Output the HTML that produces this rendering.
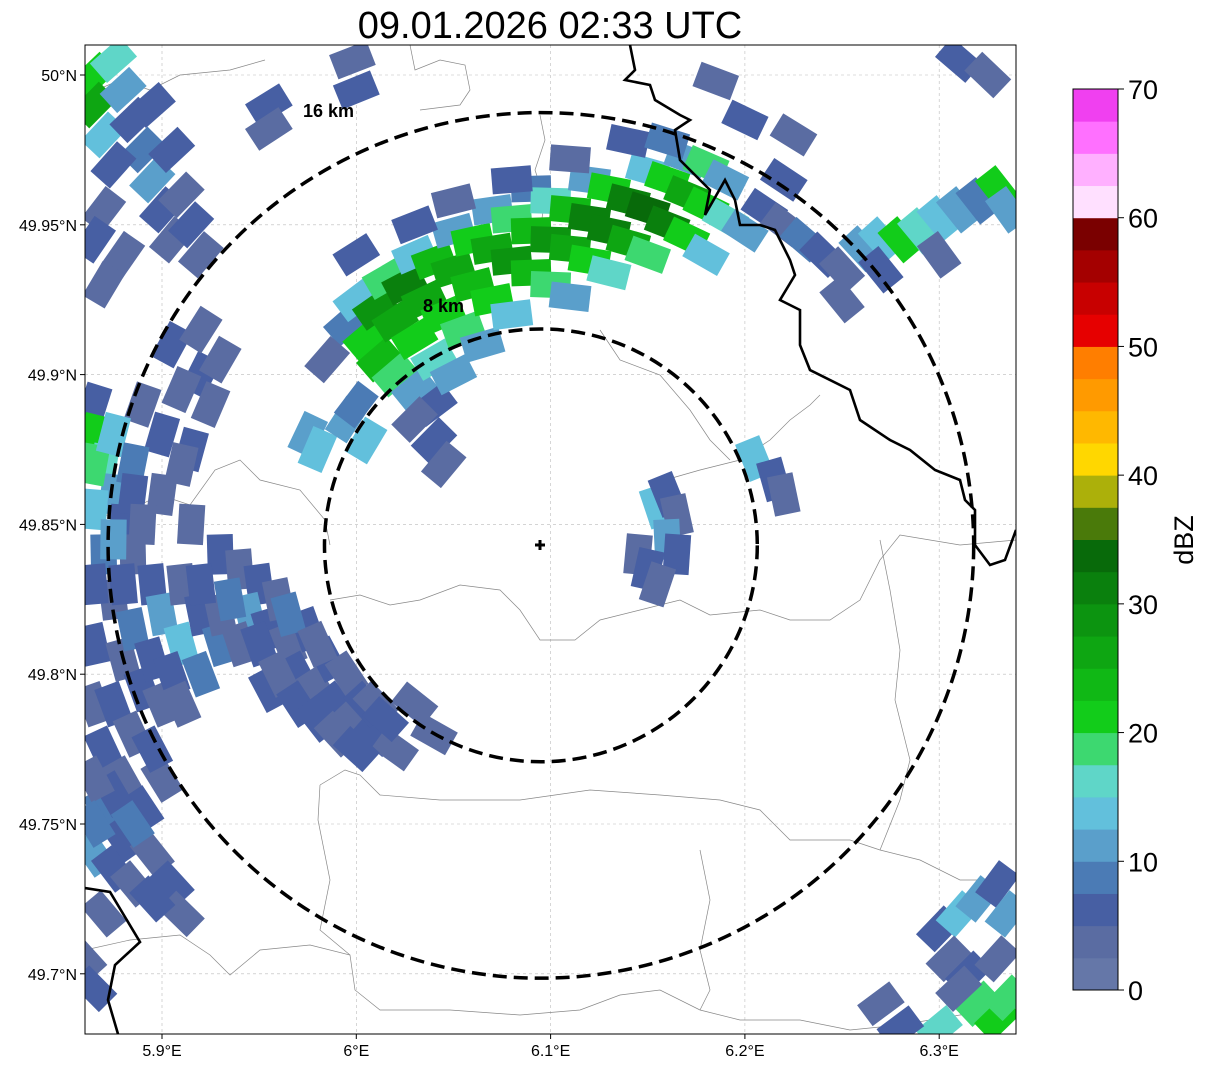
<!DOCTYPE html>
<html><head><meta charset="utf-8"><style>
html,body{margin:0;padding:0;background:#fff;}
body{width:1207px;height:1069px;overflow:hidden;font-family:"Liberation Sans","DejaVu Sans",sans-serif;}
</style></head><body>
<svg id="chart" width="1207" height="1069" xmlns="http://www.w3.org/2000/svg" font-family="Liberation Sans, DejaVu Sans, sans-serif">
<text x="550" y="38" font-size="38" text-anchor="middle">09.01.2026 02:33 UTC</text>
<defs><clipPath id="mapclip"><rect x="85" y="45" width="931" height="989"/></clipPath></defs>
<g id="map" clip-path="url(#mapclip)">
<g id="grid"></g>
<g id="borders" fill="none" stroke="#888" stroke-width="0.7">
<path d="M85,95 L120,80 150,90 180,75 230,70 265,60"/>
<path d="M410,45 L415,70 440,60 465,65 470,90 460,105 420,110"/>
<path d="M540,115 L545,140 535,170 545,200 540,230"/>
<path d="M85,520 L130,510 160,495 190,505 215,470 240,460 260,480 300,490 325,520 330,545"/>
<path d="M330,600 L360,595 390,605 420,600 460,585 500,590 520,610 540,640 575,640 600,620 640,610 680,600 710,615 760,610 790,620 830,620 860,600 880,560 900,535 960,545 1016,540"/>
<path d="M320,785 L345,770 360,775 380,795 440,800 520,800 590,790 660,795 720,800 760,810 790,840 850,840 880,850 920,860 960,880 1016,880"/>
<path d="M85,950 L130,940 180,935 210,955 230,975 260,950 310,945 350,955 355,990 380,1010 450,1010 520,1015 580,1010 620,995 660,990 700,1010 740,1020 800,1020 850,1030 900,1025 960,1015 1016,1010"/>
<path d="M665,480 L700,470 740,460 770,440 790,420 810,405 820,395"/>
<path d="M600,330 L620,360 660,375 690,410 710,440 730,460"/>
<path d="M880,540 L890,590 900,650 895,700 910,760 900,800 880,850"/>
<path d="M320,785 L318,820 330,880 320,930 350,955"/>
<path d="M700,850 L710,900 700,950 710,990 700,1010"/>
</g>
<g id="echoes"></g>
<g id="rivers" fill="none" stroke="#000" stroke-width="2.6">
<path d="M630,45 L635,70 625,80 650,85 655,100 680,115 690,120 675,130 680,160 700,180 710,190 705,215 725,180 735,200 740,225 760,225 775,230 790,260 795,275 780,300 800,310 800,345 810,370 850,390 860,420 890,440 910,450 935,470 960,480 965,500 975,510 975,545 990,565 1005,560 1016,530"/>
<path d="M85,888 L110,892 140,942 115,965 108,1000 118,1034"/>
</g>
</g>
<rect x="85" y="45" width="931" height="989" fill="none" stroke="#000" stroke-width="1"/>
<g id="rings" fill="none" stroke="#000" stroke-width="3.5" stroke-dasharray="14,7"></g>
<g stroke="#000" stroke-width="3"><line x1="535" y1="545" x2="545" y2="545"/><line x1="540" y1="540" x2="540" y2="550"/></g>
<text x="303" y="117" font-size="18" font-weight="bold">16 km</text>
<text x="423" y="312" font-size="18" font-weight="bold">8 km</text>
<g id="axes" font-size="16"></g>
<g id="cbar"></g>
<text transform="translate(1193,540) rotate(-90)" font-size="27" text-anchor="middle">dBZ</text>
</svg>
<script>
const lonTicks=[5.9,6.0,6.1,6.2,6.3];
const lonLabels=["5.9°E","6°E","6.1°E","6.2°E","6.3°E"];
const latTicks=[50.0,49.95,49.9,49.85,49.8,49.75,49.7];
const latLabels=["50°N","49.95°N","49.9°N","49.85°N","49.8°N","49.75°N","49.7°N"];
const cbarTicks=[0,10,20,30,40,50,60,70];
const cbarColors=["#6577a8","#5a6ca2","#475fa3","#4b7bb5","#5a9fcb","#62c0dc","#5fd6c8","#3dd870","#12cc1a","#10b815","#0ea612","#0c9410","#0a800d","#086a0a","#4a7a0a","#acb00a","#ffd700","#ffb800","#ff9a00","#ff7e00","#e60000","#c80000","#a40000","#7a0000","#ffe0ff","#ffb0ff","#ff70ff","#f040f0"];
const radarSite=[6.095,49.843];
const ringRadiiKm=[8,16];
const echoLon=[],echoLat=[],echoDbz=[];
const echoCells=[
[5.995,49.917,8],[6.005,49.912,22],[6.012,49.905,24],[6.02,49.90,18],[6.03,49.895,10],[6.04,49.89,6],[6.0,49.925,14],[6.01,49.922,28],[6.02,49.918,26],[6.03,49.912,22],[6.04,49.905,16],[6.05,49.90,12],
[6.015,49.932,18],[6.025,49.93,30],[6.035,49.925,26],[6.045,49.92,22],[6.055,49.915,18],[6.065,49.91,12],
[6.03,49.94,14],[6.04,49.938,24],[6.05,49.935,26],[6.06,49.93,24],[6.07,49.925,20],[6.08,49.92,14],
[6.05,49.948,12],[6.06,49.945,22],[6.07,49.942,26],[6.08,49.938,28],[6.09,49.934,24],[6.10,49.93,18],[6.11,49.926,12],
[6.07,49.955,10],[6.08,49.952,18],[6.09,49.948,24],[6.10,49.945,28],[6.11,49.942,26],[6.12,49.938,22],[6.13,49.934,16],
[6.09,49.962,8],[6.10,49.958,16],[6.11,49.955,24],[6.12,49.952,30],[6.13,49.948,30],[6.14,49.944,26],[6.15,49.94,18],
[6.12,49.965,12],[6.13,49.962,20],[6.14,49.958,32],[6.15,49.955,34],[6.16,49.95,30],[6.17,49.946,22],[6.18,49.94,14],
[6.15,49.968,14],[6.16,49.965,22],[6.17,49.96,26],[6.18,49.956,22],[6.19,49.952,16],[6.20,49.948,10],
[6.17,49.972,10],[6.18,49.97,18],[6.19,49.965,12],
[6.03,49.95,6],[6.05,49.958,4],[6.08,49.965,6],[6.11,49.972,4],[6.14,49.978,6],[6.16,49.978,8],[6.0,49.94,6],[5.985,49.905,4],
[6.21,49.955,6],[6.22,49.95,4],[6.23,49.945,8],[6.24,49.94,6],[6.25,49.935,4],[6.26,49.942,12],[6.27,49.945,14],[6.28,49.945,20],[6.29,49.948,16],[6.30,49.952,14],[6.31,49.955,12],[6.32,49.958,8],[6.33,49.962,20],[6.335,49.955,10],[6.27,49.935,6],[6.30,49.94,4],[6.22,49.965,6],[6.25,49.925,4],
[6.03,49.885,4],[6.04,49.878,6],[6.045,49.87,4],
[5.865,50.0,22],[5.865,49.99,26],[5.87,49.98,14],[5.875,50.005,16],[5.88,49.995,12],[5.885,49.985,6],[5.89,49.975,8],[5.895,49.965,12],[5.9,49.955,6],[5.905,49.945,4],[5.91,49.96,4],[5.915,49.95,6],[5.92,49.94,4],[5.875,49.97,6],[5.87,49.955,4],[5.865,49.945,6],[5.88,49.94,4],[5.895,49.99,6],[5.905,49.975,6],[5.87,49.93,4],
[5.865,49.89,6],[5.865,49.88,20],[5.87,49.87,16],[5.875,49.86,12],[5.865,49.855,14],[5.88,49.85,6],[5.87,49.84,8],[5.885,49.84,4],[5.895,49.83,6],[5.875,49.825,4],[5.9,49.82,10],[5.91,49.81,14],[5.865,49.81,6],[5.88,49.805,4],[5.89,49.795,6],[5.9,49.79,4],[5.92,49.8,8],[5.865,49.79,4],[5.87,49.775,6],[5.88,49.765,4],[5.89,49.755,6],[5.87,49.755,8],[5.865,49.74,10],[5.88,49.745,6],[5.895,49.74,4],[5.905,49.73,6],[5.91,49.72,4],[5.86,49.705,4],[5.89,49.89,4],[5.9,49.88,6],[5.92,49.9,6],[5.925,49.89,4],[5.93,49.905,4],[5.9,49.86,4],
[5.865,49.87,18],[5.875,49.88,14],[5.885,49.87,8],[5.885,49.86,6],[5.89,49.85,4],[5.875,49.845,10],[5.865,49.83,6],[5.88,49.83,6],[5.885,49.815,8],[5.895,49.805,6],[5.905,49.8,6],[5.91,49.79,4],[5.875,49.79,6],[5.885,49.78,4],[5.875,49.76,6],[5.885,49.75,8],[5.865,49.765,4],[5.865,49.75,8],[5.875,49.735,6],[5.885,49.73,4],[5.895,49.725,6],[5.9,49.765,4],[5.895,49.775,6],[5.91,49.83,4],[5.92,49.82,6],[5.93,49.81,8],[5.915,49.875,6],[5.91,49.895,4],[5.905,49.91,6],[5.92,49.915,4],[5.91,49.87,4],[5.87,49.72,4],[5.865,49.695,6],
[5.93,49.84,6],[5.94,49.835,4],[5.95,49.83,6],[5.945,49.82,12],[5.955,49.815,6],[5.965,49.81,4],[5.97,49.80,6],[5.98,49.795,4],[5.99,49.79,6],[6.0,49.785,4],[6.01,49.78,6],[6.02,49.775,4],[5.985,49.805,6],[5.995,49.8,4],[6.005,49.79,6],[5.96,49.825,4],[5.975,49.815,6],[5.94,49.81,4],[5.955,49.795,6],[5.93,49.82,4],[6.03,49.79,4],[6.04,49.78,4],[5.915,49.85,4],[5.92,49.83,6],
[5.935,49.825,8],[5.95,49.81,6],[5.96,49.8,4],[5.97,49.79,6],[5.98,49.785,6],[5.99,49.78,4],[6.0,49.775,6],[5.965,49.82,8],[5.98,49.81,4],[6.01,49.79,4],[6.015,49.785,6],
[6.155,49.856,14],[6.16,49.86,6],[6.165,49.853,4],[6.16,49.845,12],[6.165,49.84,6],[6.145,49.84,4],[6.15,49.835,6],[6.155,49.83,4],[6.205,49.872,14],[6.215,49.865,6],[6.22,49.86,4],[5.975,49.88,12],[5.98,49.875,14],[5.995,49.885,12],[6.005,49.878,14],[6.0,49.89,8],
[5.998,50.005,4],[6.0,49.995,6],[5.955,49.99,6],[5.955,49.982,4],[6.185,49.998,4],[6.2,49.985,6],[6.31,50.005,6],[6.325,50.0,4],[6.225,49.98,4],
[6.30,49.715,6],[6.31,49.72,14],[6.32,49.725,10],[6.33,49.73,6],[6.335,49.72,12],[6.305,49.705,4],[6.315,49.7,6],[6.33,49.705,4],[6.32,49.69,18],[6.33,49.685,22],[6.335,49.692,18],[6.30,49.682,16],[6.28,49.682,6],[6.27,49.69,4],[6.31,49.695,4]
];
echoCells.forEach(c=>{echoLon.push(c[0]);echoLat.push(c[1]);echoDbz.push(c[2]);});

const NS="http://www.w3.org/2000/svg";
const X=lon=>162+(lon-5.9)*1943;
const Y=lat=>75+(50-lat)*2996;
const kmPx=27.05;
const cbY=v=>990-v*(901/70);
function mk(tag,attrs,parent){const e=document.createElementNS(NS,tag);for(const k in attrs)e.setAttribute(k,attrs[k]);parent.appendChild(e);return e;}
const grid=document.getElementById('grid'),axes=document.getElementById('axes');
lonTicks.forEach((t,i)=>{const x=X(t);
 const l=mk('line',{x1:x,y1:45,x2:x,y2:1034,stroke:'#bbb','stroke-width':0.6,'stroke-dasharray':'3,3'},grid);
 
 
 const tk=mk('line',{x1:x,y1:1034,x2:x,y2:1039,stroke:'#000'},axes);
 
 
 const tx=mk('text',{x:x,y:1056,'text-anchor':'middle'},axes);tx.textContent=lonLabels[i];
 
 
});
latTicks.forEach((t,i)=>{const y=Y(t);
 const l=mk('line',{x1:85,y1:y,x2:1016,y2:y,stroke:'#bbb','stroke-width':0.6,'stroke-dasharray':'3,3'},grid);
 
 
 const tk=mk('line',{x1:80,y1:y,x2:85,y2:y,stroke:'#000'},axes);
 
 
 const tx=mk('text',{x:77,y:y+6,'text-anchor':'end'},axes);tx.textContent=latLabels[i];
 
 
});
function colorFor(v){return cbarColors[Math.max(0,Math.min(27,Math.floor(v/2.5)))];}
const echoes=document.getElementById('echoes');
const cx=X(radarSite[0]),cy=Y(radarSite[1]);
echoLon.forEach((lon,i)=>{const x=X(lon),y=Y(echoLat[i]);
 const ang=Math.atan2(y-cy,x-cx)*180/Math.PI+90;
 const r=mk('rect',{x:x-20,y:y-13,width:40,height:26,fill:colorFor(echoDbz[i]),transform:`rotate(${ang.toFixed(1)} ${x} ${y})`},echoes);
 
 
});
const rings=document.getElementById('rings');
ringRadiiKm.forEach(km=>{const c=mk('circle',{cx:cx,cy:cy,r:km*kmPx},rings);
 
 
});
const cbar=document.getElementById('cbar');
cbarColors.forEach((col,i)=>{const y0=cbY(i*2.5),y1=cbY((i+1)*2.5);
 const r=mk('rect',{x:1073,y:y1,width:45,height:y0-y1+0.5,fill:col},cbar);
 
 
});
mk('rect',{x:1073,y:89,width:45,height:901,fill:'none',stroke:'#000','stroke-width':1},cbar);
cbarTicks.forEach(t=>{const y=cbY(t);
 const tk=mk('line',{x1:1118,y1:y,x2:1124,y2:y,stroke:'#000'},cbar);
 
 
 const tx=mk('text',{x:1128,y:y+10,'font-size':27},cbar);tx.textContent=t;
 
 
});
</script>
</body></html>
